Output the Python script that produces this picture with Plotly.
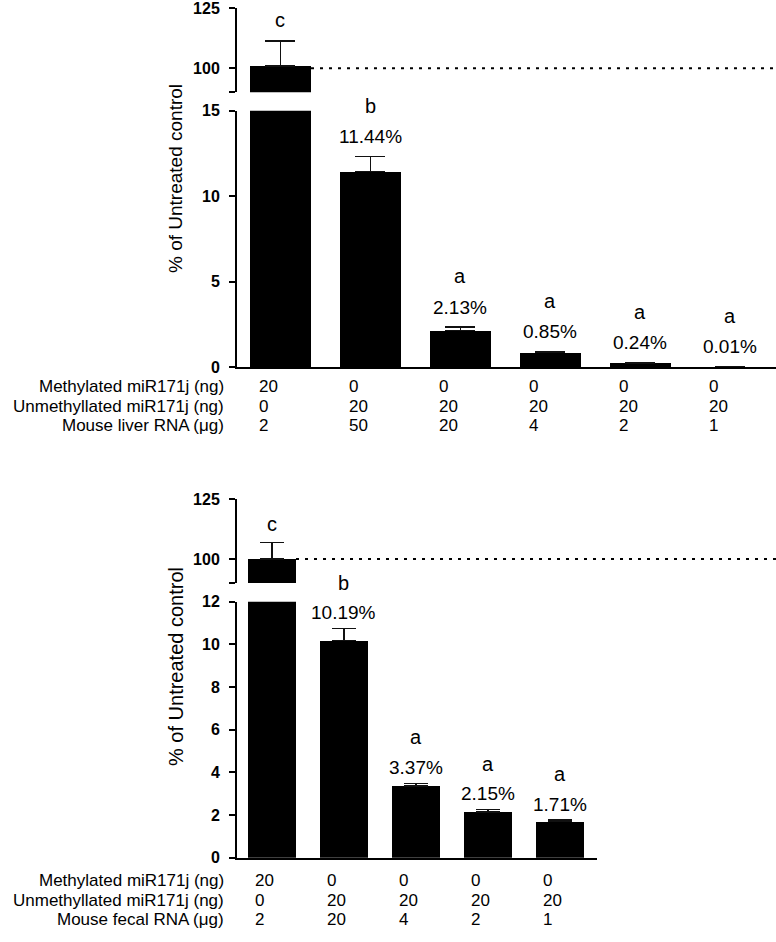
import plotly.graph_objects as go

# ---------------- data ----------------
liver_values = [101.0, 11.44, 2.13, 0.85, 0.24, 0.01]
liver_errors = [10.3, 0.87, 0.20, 0.03, 0.02, 0.0]
liver_letters = ["c", "b", "a", "a", "a", "a"]
liver_pct = ["", "11.44%", "2.13%", "0.85%", "0.24%", "0.01%"]
liver_methylated = ["20", "0", "0", "0", "0", "0"]
liver_unmethylated = ["0", "20", "20", "20", "20", "20"]
liver_rna = ["2", "50", "20", "4", "2", "1"]
liver_row_labels = ["Methylated miR171j (ng)", "Unmethyllated miR171j (ng)", "Mouse liver RNA (\u03bcg)"]

fecal_values = [100.0, 10.19, 3.37, 2.15, 1.71]
fecal_errors = [6.9, 0.55, 0.12, 0.10, 0.05]
fecal_letters = ["c", "b", "a", "a", "a"]
fecal_pct = ["", "10.19%", "3.37%", "2.15%", "1.71%"]
fecal_methylated = ["20", "0", "0", "0", "0"]
fecal_unmethylated = ["0", "20", "20", "20", "20"]
fecal_rna = ["2", "20", "4", "2", "1"]
fecal_row_labels = ["Methylated miR171j (ng)", "Unmethyllated miR171j (ng)", "Mouse fecal RNA (\u03bcg)"]

liver_low_ticks = [0, 5, 10, 15]
fecal_low_ticks = [0, 2, 4, 6, 8, 10, 12]
upper_ticks = [90, 100, 125]
upper_ticktext = ["", "100", "125"]
y_title = "% of Untreated control"

# ---------------- layout helpers ----------------
W, H = 776, 942
FONT = "Arial, 'Liberation Sans', sans-serif"


def py(p):
    return (H - p) / H


top_xrange = [-0.483, 5.506]
bot_xrange = [-0.486, 4.514]
top_w = 0.678
bot_w = 0.667

fig = go.Figure()

n1 = len(liver_values)
n2 = len(fecal_values)
xs1 = list(range(n1))
xs2 = list(range(n2))

err_style = dict(type="data", symmetric=False, color="#111111", thickness=1.5)

for ax in ["y", "y2"]:
    fig.add_trace(go.Bar(
        x=xs1, y=liver_values, width=top_w, marker=dict(color="black", line=dict(width=0)),
        error_y=dict(array=liver_errors, arrayminus=[0] * n1, width=15, **err_style),
        xaxis="x", yaxis=ax, showlegend=False, hoverinfo="skip"))
for ax in ["y3", "y4"]:
    fig.add_trace(go.Bar(
        x=xs2, y=fecal_values, width=bot_w, marker=dict(color="black", line=dict(width=0)),
        error_y=dict(array=fecal_errors, arrayminus=[0] * n2, width=12, **err_style),
        xaxis="x2", yaxis=ax, showlegend=False, hoverinfo="skip"))

xcommon = dict(showgrid=False, zeroline=False, showticklabels=False, ticks="",
               showline=True, linecolor="black", linewidth=2, automargin=False)
ycommon = dict(showgrid=False, zeroline=False, showline=True, linecolor="black", linewidth=2,
               ticks="outside", ticklen=6, tickwidth=2, tickcolor="black", automargin=False,
               tickfont=dict(family=FONT, size=16, color="black", weight="bold"),
               ticklabelstandoff=6, ticklabeloverflow="allow")

fig.update_layout(
    template="none",
    width=W, height=H, margin=dict(l=0, r=0, t=0, b=0, pad=0), autosize=False,
    paper_bgcolor="white", plot_bgcolor="white", bargap=0,
    font=dict(family=FONT, color="black"),
    xaxis=dict(domain=[237 / W, 1.0], range=top_xrange, anchor="y", **xcommon),
    yaxis=dict(domain=[py(367), py(110.7)], range=[0, 15], tickvals=liver_low_ticks,
               anchor="x", **ycommon),
    yaxis2=dict(domain=[py(92.3), py(8.3)], range=[90, 125], tickvals=upper_ticks,
                ticktext=upper_ticktext, anchor="x", **ycommon),
    xaxis2=dict(domain=[237 / W, 597 / W], range=bot_xrange, anchor="y3", **xcommon),
    yaxis3=dict(domain=[py(857.7), py(601.7)], range=[0, 12], tickvals=fecal_low_ticks,
                anchor="x2", **ycommon),
    yaxis4=dict(domain=[py(583), py(499)], range=[90, 125], tickvals=upper_ticks,
                ticktext=upper_ticktext, anchor="x2", **ycommon),
)

# dotted reference lines at 100 %
fig.add_shape(type="line", xref="x", yref="y2", x0=0 + top_w / 2, x1=top_xrange[1],
              y0=100, y1=100, line=dict(color="black", width=2, dash="3px,6px"))
bdom = fig.layout.xaxis2.domain


def bfrac(v):
    return (v - bot_xrange[0]) / (bot_xrange[1] - bot_xrange[0])


fig.add_shape(type="line", xref="x2 domain", yref="y4", x0=bfrac(0 + bot_w / 2),
              x1=(1 - bdom[0]) / (bdom[1] - bdom[0]),
              y0=100, y1=100, line=dict(color="black", width=2, dash="3px,6px"))

ann = []


def labels(values, errors, letters, pcts, xref, ylow, yup, pshift, lshift, firstshift):
    for i, v in enumerate(values):
        top = v + errors[i]
        if i == 0:
            ann.append(dict(x=i, y=top, xref=xref, yref=yup, text=letters[i], showarrow=False,
                            yanchor="middle", yshift=firstshift, font=dict(size=20)))
        else:
            ann.append(dict(x=i, y=top, xref=xref, yref=ylow, text=pcts[i], showarrow=False,
                            yanchor="middle", yshift=pshift, font=dict(size=19)))
            ann.append(dict(x=i, y=top, xref=xref, yref=ylow, text=letters[i], showarrow=False,
                            yanchor="middle", yshift=lshift, font=dict(size=20)))


labels(liver_values, liver_errors, liver_letters, liver_pct, "x", "y", "y2", 20, 51, 21)
labels(fecal_values, fecal_errors, fecal_letters, fecal_pct, "x2", "y3", "y4", 16, 46, 18)


def table(rows, names, xref, yref, shifts, xshift):
    for r, row in enumerate(rows):
        ann.append(dict(x=226 / W, y=0, xref="paper", yref=yref, text=names[r], showarrow=False,
                        xanchor="right", yanchor="middle", yshift=-shifts[r], font=dict(size=17)))
        for i, t in enumerate(row):
            ann.append(dict(x=i, y=0, xref=xref, yref=yref, text=t, showarrow=False,
                            xanchor="left", yanchor="middle", xshift=xshift, yshift=-shifts[r],
                            font=dict(size=17)))


table([liver_methylated, liver_unmethylated, liver_rna], liver_row_labels, "x", "y",
      [19, 39, 58], -23)
table([fecal_methylated, fecal_unmethylated, fecal_rna], fecal_row_labels, "x2", "y3",
      [23, 43, 62], -19)

ann.append(dict(x=176 / W, y=py(179), xref="paper", yref="paper", text=y_title, textangle=-90,
                showarrow=False, xanchor="center", yanchor="middle", font=dict(size=19)))
ann.append(dict(x=176 / W, y=py(667), xref="paper", yref="paper", text=y_title, textangle=-90,
                showarrow=False, xanchor="center", yanchor="middle", font=dict(size=20)))

fig.update_layout(annotations=ann)

fig.write_html("out.html", config={"displayModeBar": False},
               post_script="document.body.style.margin='0';document.body.style.overflow='hidden';")
